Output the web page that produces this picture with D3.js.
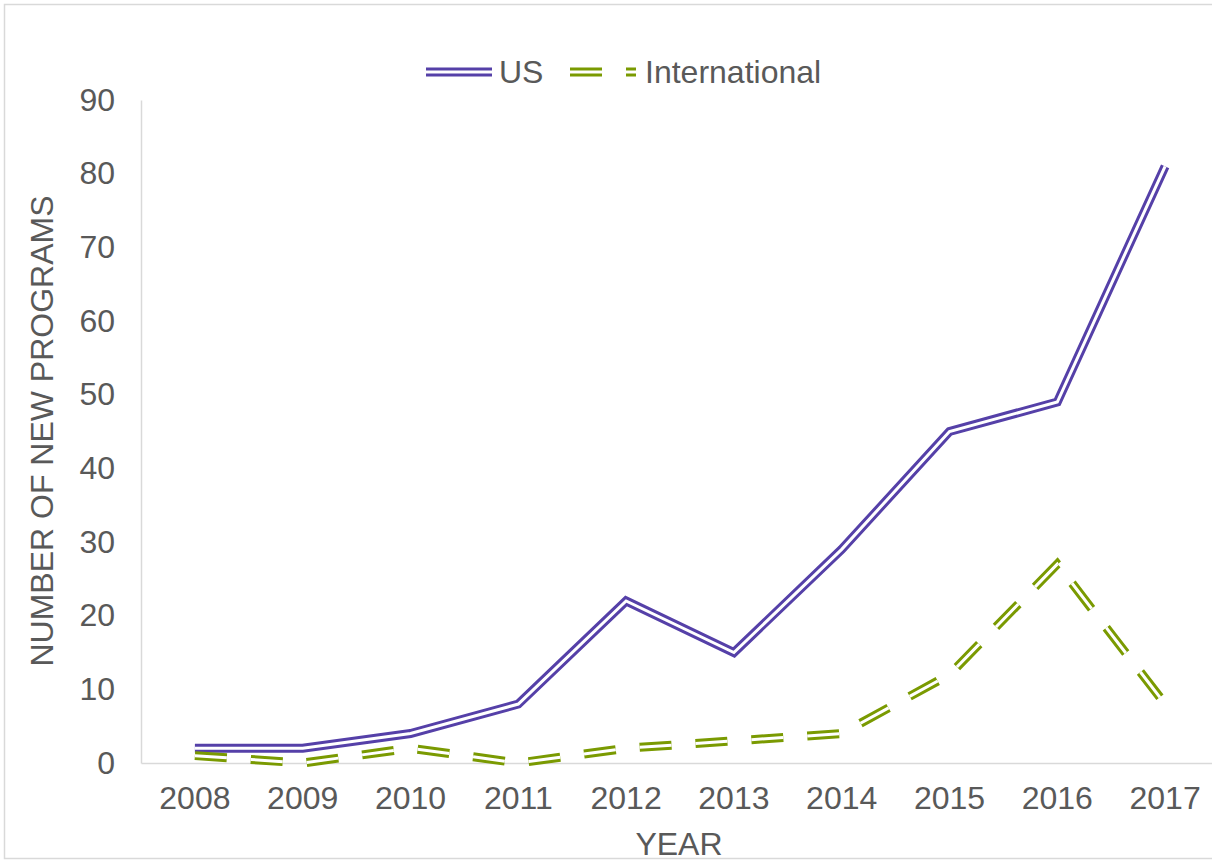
<!DOCTYPE html>
<html>
<head>
<meta charset="utf-8">
<script src="https://cdn.jsdelivr.net/npm/d3@7"></script>
<style>
  body { margin: 0; background: #fff; }
  text { font-family: "Liberation Sans", Arial, sans-serif; fill: #595959; }
</style>
</head>
<body>
<div id="chart"></div>
<script>
// chart values
var years = ["2008", "2009", "2010", "2011", "2012", "2013", "2014", "2015", "2016", "2017"];
var usValues = [2, 2, 4, 8, 22, 15, 29, 45, 49, 81];
var intlValues = [1, 0, 2, 0, 2, 3, 4, 12, 27, 8];
var yTicks = [0, 10, 20, 30, 40, 50, 60, 70, 80, 90];

var width = 1212, height = 861;
var purple = "#5540a8", green = "#7a9a01";
var fontSize = "32px";

var svg = d3.select("#chart").append("svg")
    .attr("width", width)
    .attr("height", height);

// outer chart border (right side runs off the picture)
svg.append("rect")
    .attr("x", 4.5).attr("y", 4.5)
    .attr("width", 1230).attr("height", 854)
    .style("fill", "none")
    .style("stroke", "#d9d9d9")
    .style("stroke-width", 1.5);

var x = d3.scaleBand().domain(years).range([141, 1219]);
var y = d3.scaleLinear().domain([0, 90]).range([763, 100]);

// axes
var yAxis = svg.append("g")
    .attr("transform", "translate(141,0)")
    .call(d3.axisLeft(y).tickValues(yTicks).tickSize(0).tickPadding(26));
yAxis.select(".domain").style("stroke", "#d9d9d9").style("stroke-width", 1.5);
yAxis.selectAll("text").style("font-size", fontSize).style("fill", "#595959")
    .attr("font-family", null);

var xAxis = svg.append("g")
    .attr("transform", "translate(0,763)")
    .call(d3.axisBottom(x).tickSize(0).tickPadding(23));
xAxis.select(".domain").style("stroke", "#d9d9d9").style("stroke-width", 1.5);
xAxis.selectAll("text").style("font-size", fontSize).style("fill", "#595959")
    .attr("font-family", null);

// axis titles
svg.append("text")
    .attr("x", 679).attr("y", 855)
    .attr("text-anchor", "middle")
    .style("font-size", fontSize)
    .text("YEAR");

svg.append("text")
    .attr("transform", "translate(53,431) rotate(-90)")
    .attr("text-anchor", "middle")
    .style("font-size", fontSize)
    .text("NUMBER OF NEW PROGRAMS");

// double lines: wide coloured stroke with a thin white stroke on top
function doubleLine(values, color, dash) {
    var line = d3.line()
        .x(function(d, i) { return x(years[i]) + x.bandwidth() / 2; })
        .y(function(d) { return y(d); });
    var g = svg.append("g");
    g.append("path")
        .attr("d", line(values))
        .style("fill", "none")
        .style("stroke", color)
        .style("stroke-width", 9)
        .style("stroke-linejoin", "miter")
        .style("stroke-dasharray", dash);
    g.append("path")
        .attr("d", line(values))
        .style("fill", "none")
        .style("stroke", "#fff")
        .style("stroke-width", 3)
        .style("stroke-linejoin", "miter")
        .style("stroke-dasharray", dash);
}

doubleLine(usValues, purple, null);
doubleLine(intlValues, green, "32,24");

// legend
var legend = [
    {name: "US", color: purple, dash: null, x0: 426, tx: 499},
    {name: "International", color: green, dash: "32,24", x0: 570, tx: 645}
];
legend.forEach(function(d) {
    svg.append("line")
        .attr("x1", d.x0).attr("x2", d.x0 + 66).attr("y1", 72).attr("y2", 72)
        .style("stroke", d.color).style("stroke-width", 9)
        .style("stroke-dasharray", d.dash);
    svg.append("line")
        .attr("x1", d.x0).attr("x2", d.x0 + 66).attr("y1", 72).attr("y2", 72)
        .style("stroke", "#fff").style("stroke-width", 3)
        .style("stroke-dasharray", d.dash);
    svg.append("text")
        .attr("x", d.tx).attr("y", 83)
        .style("font-size", fontSize)
        .text(d.name);
});
</script>
</body>
</html>
